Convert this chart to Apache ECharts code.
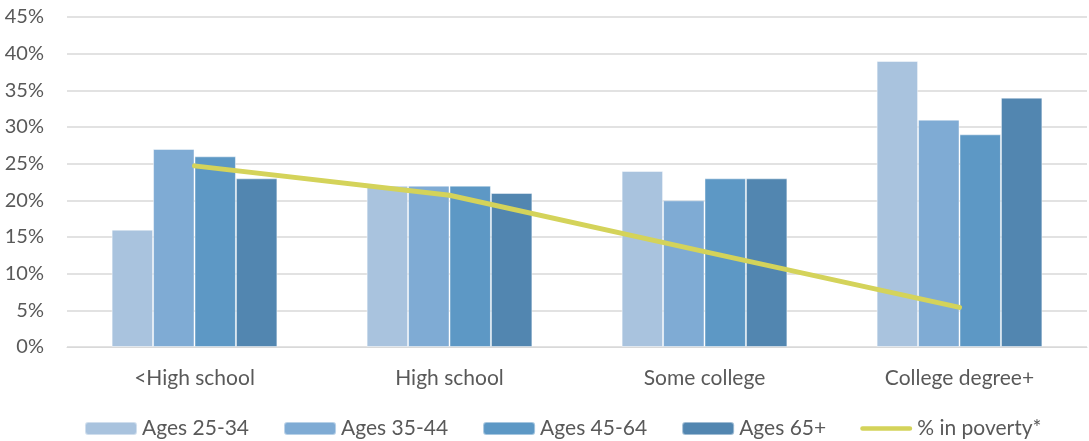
<!DOCTYPE html>
<html>
<head>
<meta charset="utf-8">
<script src="https://cdn.jsdelivr.net/npm/echarts@6/dist/echarts.min.js"></script>
<style>
  html, body { margin: 0; padding: 0; background: #fff; }
  #chart { width: 1089px; height: 441px; }
</style>
</head>
<body>
<div id="chart"></div>
<script>
// Education level categories
const categories = ['<High school', 'High school', 'Some college', 'College degree+'];
// Share by age group (%)
const ages25to34 = [16, 22, 24, 39];
const ages35to44 = [27, 22, 20, 31];
const ages45to64 = [26, 22, 23, 29];
const ages65plus = [23, 21, 23, 34];
// Poverty rate (%)
const povertyRate = [24.7, 20.7, 13.0, 5.4];
const yTicks = [0, 5, 10, 15, 20, 25, 30, 35, 40, 45];

const fontFamily = 'Lato, "Open Sans", sans-serif';
const textColor = '#595959';
const lineColor = '#D4D35A';

// Rounded bar icon for the line entry: thin stroke centred in a 56x13 box
const lineIcon = 'path://M0,0 M56,13 M2.5,4 L53.5,4 A2.5,2.5 0 0 1 53.5,9 L2.5,9 A2.5,2.5 0 0 1 2.5,4 Z';

function barSeries(name, data, color) {
  return {
    name, type: 'bar', data,
    barGap: '0%', barCategoryGap: '35%',
    itemStyle: { color, borderColor: 'rgba(255,255,255,0.45)', borderWidth: 1 }
  };
}

const chart = echarts.init(document.getElementById('chart'), null, { renderer: 'canvas' });
chart.setOption({
  animation: false,
  textStyle: { fontFamily },
  grid: { left: 67, right: 2, top: 17, bottom: 94, containLabel: false },
  legend: {
    left: 79, top: 413,
    itemWidth: 52, itemHeight: 13, itemGap: 34,
    textStyle: { color: textColor, fontSize: 21, fontFamily },
    data: [
      { name: 'Ages 25-34' }, { name: 'Ages 35-44' }, { name: 'Ages 45-64' }, { name: 'Ages 65+' },
      { name: '% in poverty*', icon: lineIcon, itemStyle: { color: lineColor } }
    ]
  },
  xAxis: {
    type: 'category', data: categories,
    axisLine: { lineStyle: { color: '#D9D9D9', width: 1 } },
    axisTick: { show: false },
    axisLabel: { color: textColor, fontSize: 21, margin: 21 }
  },
  yAxis: {
    type: 'value', min: yTicks[0], max: yTicks[yTicks.length - 1], interval: 5,
    axisLine: { show: false }, axisTick: { show: false },
    axisLabel: { color: textColor, fontSize: 20, margin: 23, formatter: v => v + '%' },
    splitLine: { lineStyle: { color: '#D9D9D9', width: 1.5 } }
  },
  series: [
    barSeries('Ages 25-34', ages25to34, '#A9C3DE'),
    barSeries('Ages 35-44', ages35to44, '#7FABD4'),
    barSeries('Ages 45-64', ages45to64, '#5D98C5'),
    barSeries('Ages 65+', ages65plus, '#5286B0'),
    {
      name: '% in poverty*', type: 'line', data: povertyRate,
      symbol: 'none', z: 5,
      lineStyle: { color: lineColor, width: 5, cap: 'round', join: 'round' },
      itemStyle: { color: lineColor }
    }
  ]
});
</script>
</body>
</html>
